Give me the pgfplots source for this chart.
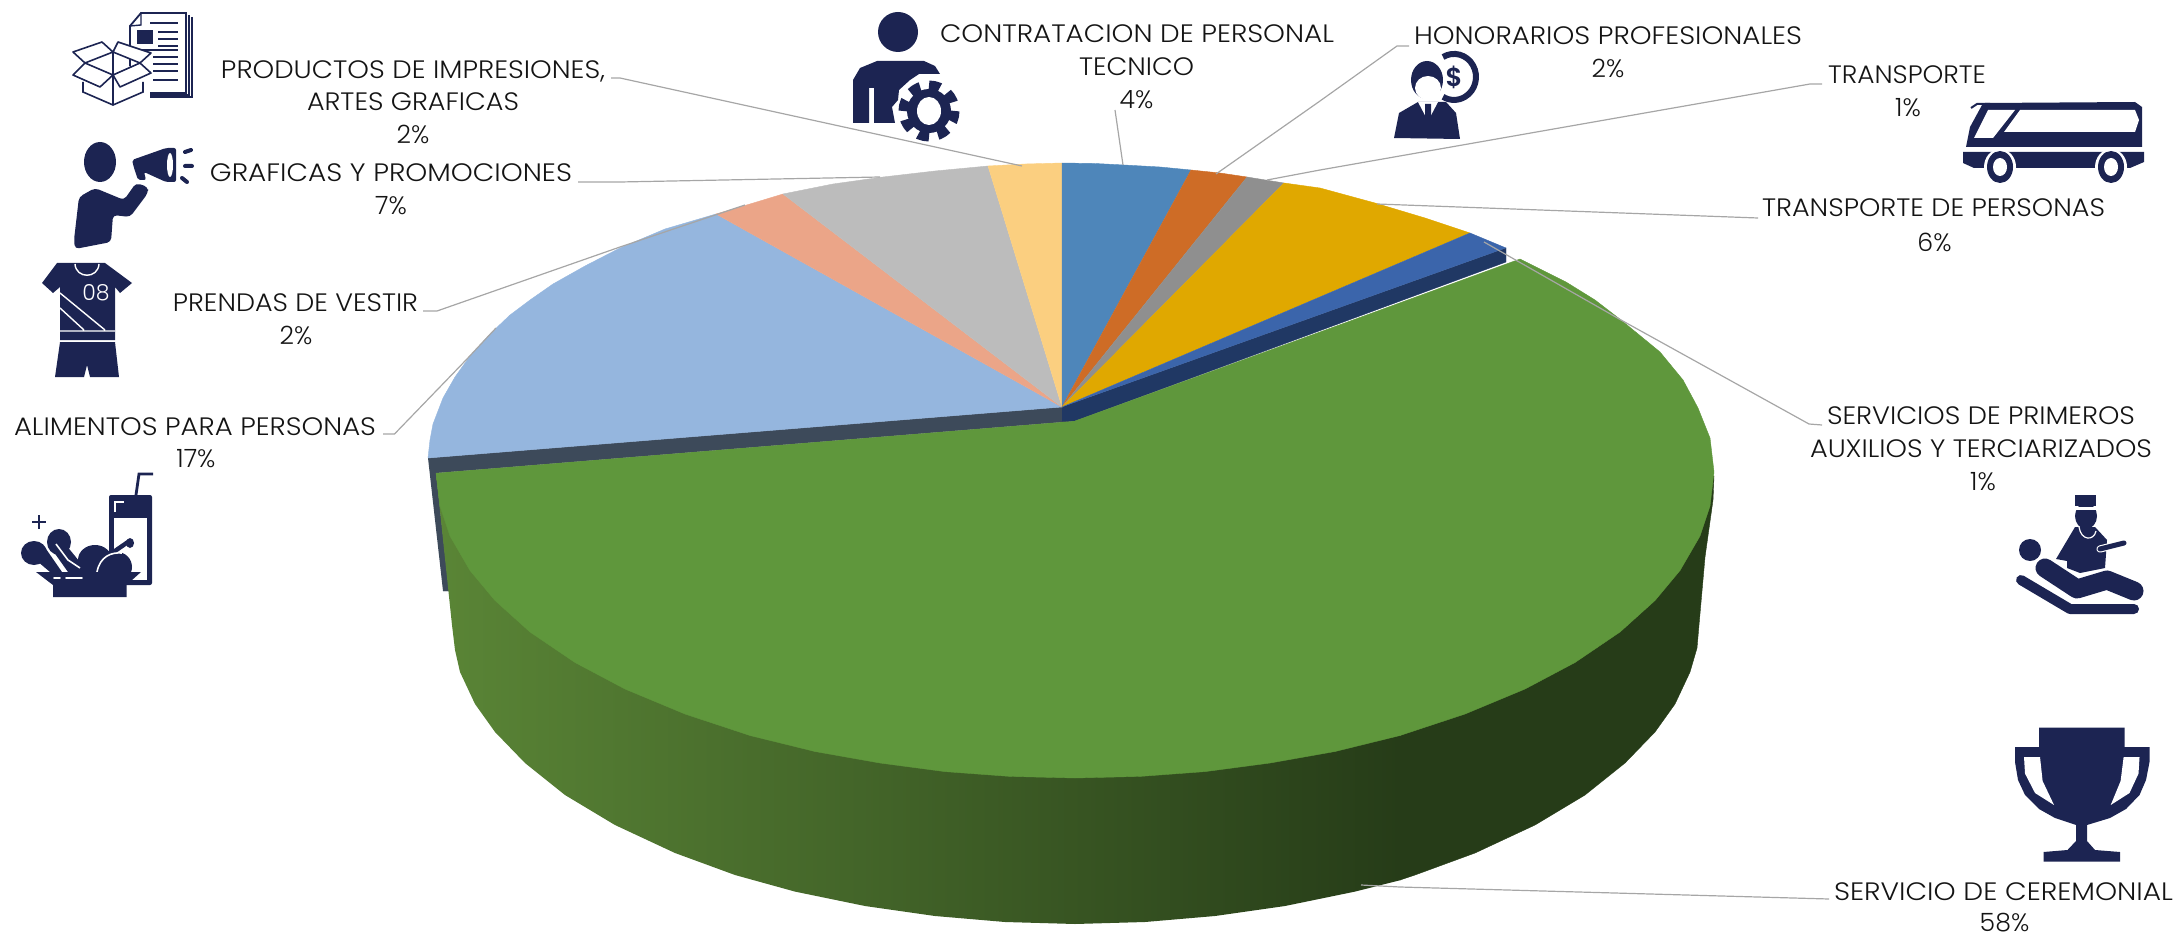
\documentclass[border=0pt]{standalone}
\usepackage{pgfplots}
\usepackage{graphicx}
\usepackage{fontspec}
\setmainfont{Poppins Light}
\pgfplotsset{compat=1.18}
\definecolor{iconnavy}{HTML}{1C2452}
\definecolor{leader}{HTML}{A6A6A6}
\definecolor{cTop}{HTML}{5F973C}
\definecolor{cSideL}{HTML}{5A8536}
\definecolor{cSideR}{HTML}{263C18}
\definecolor{cAli}{HTML}{95B6DE}
\definecolor{cPre}{HTML}{EBA588}
\definecolor{cGra}{HTML}{BCBCBC}
\definecolor{cPro}{HTML}{FBCF80}
\definecolor{cCon}{HTML}{4E86BA}
\definecolor{cHon}{HTML}{CE6C26}
\definecolor{cTra}{HTML}{8F8F8F}
\definecolor{cPer}{HTML}{E0A800}
\definecolor{cSer}{HTML}{3B65AB}
\definecolor{cDk}{HTML}{203864}
\definecolor{cDl}{HTML}{3D4A5A}
\newcommand\lab[4]{\node[anchor=base,inner sep=0pt,text=black!92] at (#1,#2+9) {\resizebox{#3pt}{\height}{#4}};}
\newcommand\plab[3]{\node[anchor=base,inner sep=0pt,text=black!92] at (#1,#2+9) {#3};}
\begin{document}
\fontsize{12.6}{15}\selectfont
\begin{tikzpicture}
\path[use as bounding box] (0,0) rectangle (1089pt,468pt);
\begin{axis}[at={(0,0)},anchor=south west,width=1089pt,height=468pt,scale only axis,
  xmin=0,xmax=2178,ymin=0,ymax=936,y dir=reverse,hide axis,clip=false]
% dark bands behind the exploded slice
\addplot[fill=cDl,draw=cDl,line width=0.2pt] coordinates {(428,458)(1062,407)(1062,421)(1075,421)(436,473)(449,591)(443,591)};
\addplot[fill=cDk,draw=cDk,line width=0.2pt] coordinates {(1062,407)(1506,248)(1506,262)(1075,421)(1062,421)};
% slices, top faces
\addplot[fill=cAli,draw=cAli,line width=0.2pt] coordinates {(1062,407)(428,458)(430,440)(433,424)(443,398)(455,377)(470,356)(490,334)(510,315)(530,300)(553,284)(585,266)(620,248)(665,229)(716,214)};
\addplot[fill=cPre,draw=cPre,line width=0.2pt] coordinates {(1062,407)(716,214)(750,204)(783,194)};
\addplot[fill=cGra,draw=cGra,line width=0.2pt] coordinates {(1062,407)(783,194)(833,184)(883,177)(935,171)(988,166)};
\addplot[fill=cPro,draw=cPro,line width=0.2pt] coordinates {(1062,407)(988,166)(1025,164)(1062,163)};
\addplot[fill=cCon,draw=cCon,line width=0.2pt] coordinates {(1062,407)(1062,163)(1095,163.5)(1124,165)(1160,167)(1191,170)};
\addplot[fill=cHon,draw=cHon,line width=0.2pt] coordinates {(1062,407)(1191,170)(1220,173)(1247,177)};
\addplot[fill=cTra,draw=cTra,line width=0.2pt] coordinates {(1062,407)(1247,177)(1284,183)};
\addplot[fill=cPer,draw=cPer,line width=0.2pt] coordinates {(1062,407)(1284,183)(1320,188)(1375,203)(1425,218)(1470,233)};
\addplot[fill=cSer,draw=cSer,line width=0.2pt] coordinates {(1062,407)(1470,233)(1506,248)};
% exploded slice: side, then top
\addplot[left color=cSideL,right color=cSideR,draw=none] coordinates {(436,473)(452,625)(455,650)(460,672)(475,704)(495,732)(525,763)(565,795)(615,825)(675,853)(735,875)(795,891.6)(865,906)(935,916)(1005,922)(1075,924)(1145,922)(1215,916)(1285,906)(1355,891.6)(1401,880)(1401,736)(1075,500)};
\addplot[fill=cSideR,draw=cSideR,line width=0.2pt] coordinates {(1400,736)(1400,880)(1415,875)(1475,853)(1535,825)(1585,795)(1625,763)(1655,732)(1675,704)(1690,672)(1697,648)(1699,625)(1705,557)(1713,500)(1714,476)(1500,600)};
\addplot[fill=cTop,draw=cTop,line width=0.2pt] coordinates {(1075,421)(1353,320)(1520,259)(1566,282)(1595,300)(1621,320)(1660,352)(1683,380)(1698,408)(1710,438)(1714,472)(1710,506)(1700,536)(1680,570.5)(1655,600.5)(1620,632)(1575,662.5)(1525,689)(1465,714)(1400,735.5)(1335,751.5)(1270,763)(1205,771.6)(1140,776.4)(1075,778)(1010,776.4)(945,771.6)(880,763)(815,751.5)(750,735.5)(685,714)(625,689)(575,662.5)(530,632)(495,600.5)(470,570.5)(450,536)(440,506)(436,473)};
% leader lines
\addplot[draw=leader,line width=0.6pt] coordinates {(611,78)(620,78)(1022,166)};
\addplot[draw=leader,line width=0.6pt] coordinates {(578,182)(620,182)(880,177)};
\addplot[draw=leader,line width=0.6pt] coordinates {(423,311)(437,311)(620,247)(745,205)};
\addplot[draw=leader,line width=0.6pt] coordinates {(383,434)(394.5,434)(466,360)(496,328)};
\addplot[draw=leader,line width=0.6pt] coordinates {(1115,110)(1123,165)};
\addplot[draw=leader,line width=0.6pt] coordinates {(1409,46)(1397,46)(1320,101)(1216,174)};
\addplot[draw=leader,line width=0.6pt] coordinates {(1822,84)(1810,84)(1320,170)(1267,180)};
\addplot[draw=leader,line width=0.6pt] coordinates {(1758,218)(1377,204)};
\addplot[draw=leader,line width=0.6pt] coordinates {(1822,425)(1809,424)(1621,320)(1484,242)};
\addplot[draw=leader,line width=0.6pt] coordinates {(1829,899)(1400,887)(1361,885)};
% labels
\lab{413}{70}{192}{PRODUCTOS DE IMPRESIONES,}
\lab{413}{102}{106}{ARTES GRAFICAS}
\plab{413}{135}{2\%}
\lab{391}{173}{181}{GRAFICAS Y PROMOCIONES}
\plab{391}{206}{7\%}
\lab{295.5}{302}{122.5}{PRENDAS DE VESTIR}
\plab{296}{335}{2\%}
\lab{195}{426}{181}{ALIMENTOS PARA PERSONAS}
\plab{196}{458}{17\%}
\lab{1137}{34}{197}{CONTRATACION DE PERSONAL}
\lab{1136.5}{67}{57.5}{TECNICO}
\plab{1136.5}{100}{4\%}
\lab{1608}{36}{194}{HONORARIOS PROFESIONALES}
\plab{1608}{69}{2\%}
\lab{1907}{75}{79}{TRANSPORTE}
\plab{1908}{108}{1\%}
\lab{1933.5}{208}{171.5}{TRANSPORTE DE PERSONAS}
\plab{1934.5}{242}{6\%}
\lab{1981}{415.5}{154}{SERVICIOS DE PRIMEROS}
\lab{1981}{448}{171}{AUXILIOS Y TERCIARIZADOS}
\plab{1983}{481}{1\%}
\lab{2003.5}{891}{169.5}{SERVICIO DE CEREMONIAL}
\plab{2004.5}{922.5}{58\%}
% icon: documents and box
\draw[iconnavy,line width=0.9pt] (192,17)--(192,97)--(150,97);
\draw[iconnavy,line width=0.9pt] (189,15)--(189,95)--(150,95);
\draw[iconnavy,line width=0.9pt,fill=white] (130,72)--(130,26)--(141,13)--(186,13)--(186,93)--(150,93);
\draw[iconnavy,line width=0.7pt] (130,26)--(141,25)--(141,13);
\fill[iconnavy] (137,30) rectangle (153,44);
\draw[iconnavy,line width=0.7pt] (150,23)--(178,23) (158,32)--(178,32) (158,39)--(178,39) (158,46)--(178,46) (140,50)--(178,50) (153,57)--(178,57) (153,64)--(178,64) (153,71)--(178,71) (153,80)--(178,80);
\fill[white] (83,80)--(83,92)--(113,105)--(143,92)--(143,80)--(113,50)--cycle;
\draw[iconnavy,line width=0.8pt,fill=white,line join=round] (113,52)--(102,42)--(73,52)--(85,63)--cycle;
\draw[iconnavy,line width=0.8pt,fill=white,line join=round] (113,52)--(118,42)--(151,53)--(140,63)--cycle;
\draw[iconnavy,line width=0.8pt,fill=white,line join=round] (85,63)--(73,75)--(100,87)--(113,75)--cycle;
\draw[iconnavy,line width=0.8pt,fill=white,line join=round] (140,63)--(151,73)--(120,87)--(113,75)--cycle;
\draw[iconnavy,line width=0.8pt] (83,82)--(83,92)--(113,105)--(143,92)--(143,82) (113,75)--(113,105) (113,52)--(113,75);
% icon: man with megaphone
\fill[iconnavy] (100,162) ellipse [x radius=16,y radius=20];
\fill[iconnavy,rounded corners=2pt] (79,197)--(95,188)--(124,200)--(136,183)--(148,187)--(148,193)--(130,217)--(113,215)--(111,242)--(75,249)--(74,240)--cycle;
\fill[iconnavy,rounded corners=1pt] (132,160)--(166,148)--(176,148)--(176,182)--(166,182)--(144,172)--(146,180)--(138,180)--(134,168)--cycle;
\fill[white] (170,165) ellipse [x radius=3,y radius=12];
\draw[iconnavy,line width=2pt,line cap=round] (185,152)--(191,150) (185,166)--(192,166) (182,178)--(187,182);
% icon: football kit
\fill[iconnavy] (57,263)--(105,263)--(132,283)--(120,293)--(115,287)--(115,340)--(60,340)--(60,287)--(53,293)--(42,283)--cycle;
\fill[iconnavy] (60,342)--(115,342)--(119,377)--(90,377)--(87,365)--(84,377)--(55,377)--cycle;
\draw[white,line width=0.7pt] (75,264) .. controls (76,279) and (98,279) .. (99,264);
\draw[white,line width=0.7pt] (60,293)--(105,330) (60,308)--(84,330) (60,331)--(115,331);
\node[text=white,inner sep=0pt,font=\fontsize{11}{12}\selectfont] at (96,293) {08};
% icon: food and drink
\fill[iconnavy,rounded corners=1pt] (109,495) rectangle (152,585);
\fill[white] (114,518) rectangle (147,580);
\draw[white,line width=0.8pt] (115,512)--(115,502)--(124,502);
\draw[iconnavy,line width=1.4pt] (136,495)--(139,474)--(153,474);
\draw[iconnavy,line width=1.4pt] (39,515)--(39,529) (32,522)--(46,522);
\fill[iconnavy] (34,553) ellipse [x radius=13,y radius=12];
\fill[iconnavy] (59,542) ellipse [x radius=12,y radius=13];
\fill[iconnavy] (30,555)--(44,546)--(62,572)--(50,572)--cycle;
\fill[iconnavy] (51,548)--(66,545)--(88,572)--(68,572)--cycle;
\fill[iconnavy] (95,560) ellipse [x radius=17,y radius=15];
\draw[iconnavy,line width=2.2pt] (112,553)--(128,542);
\fill[iconnavy] (130,543) ellipse [x radius=4,y radius=5];
\draw[white,line width=0.8pt] (56,544)--(68,560)--(80,568);
\fill[iconnavy] (117,567) ellipse [x radius=15,y radius=15];
\draw[white,line width=0.8pt] (97,572) .. controls (100,556) and (112,552) .. (122,553);
\fill[iconnavy] (36,572)--(141,572)--(126.5,585)--(126.5,597)--(53,597)--(53,585)--cycle;
\draw[white,line width=0.8pt,line cap=round] (54,578)--(60,578) (66,578)--(82,578);
% icon: person with gear
\fill[iconnavy] (898,32) ellipse [x radius=20,y radius=20];
\fill[iconnavy] (853,123)--(853,80)--(860,68)--(877,61)--(924,61)--(935,66)--(940,74)--(919,74)--(910,80)--(899,90)--(898,100)--(892,107)--(895,123)--(874,123)--(874,88)--(869,88)--(869,123)--cycle;
\fill[iconnavy] (929,111) circle [radius=22];
\draw[iconnavy,line width=4.5pt,dash pattern=on 5.6pt off 4.6pt] (929,111) circle [radius=26];
\fill[white] (929,111) ellipse [x radius=12,y radius=14];
% icon: professional and money
\fill[iconnavy] (1394,138)--(1399,113)--(1418,102)--(1446,102)--(1456,113)--(1460,139)--cycle;
\fill[white] (1418,102)--(1438,102)--(1428,121)--cycle;
\fill[iconnavy] (1425,104)--(1431,104)--(1431,118)--(1428,122)--(1425,118)--cycle;
\fill[iconnavy] (1427,80) ellipse [x radius=16,y radius=19];
\fill[white] (1428,88) ellipse [x radius=13,y radius=12];
\draw[iconnavy,line width=3pt] (1443,57) arc [start angle=-120,end angle=120,x radius=22,y radius=23];
\node[text=iconnavy,inner sep=0pt,font=\fontsize{13}{14}\bfseries] at (1454,77) {\$};
% icon: bus
\fill[iconnavy] (1985,103)--(2135,102)--(2142,107)--(2142,147)--(1966,147)--(1970,127)--(1982,105)--cycle;
\fill[iconnavy] (1963,152)--(2144,152)--(2144,162)--(2130,168)--(1974,168)--(1963,163)--cycle;
\fill[white] (1988,110)--(2015,110)--(1993,138)--(1974,138)--cycle;
\fill[white] (2020,110)--(2135,110)--(2139,120)--(2135,132)--(2004,132)--cycle;
\draw[iconnavy,line width=1pt] (1971,108)--(1977,104)--(1990,104);
\fill[white] (2000,167) ellipse [x radius=16,y radius=18];
\fill[white] (2111,167) ellipse [x radius=16,y radius=18];
\fill[iconnavy] (2000,167) ellipse [x radius=13,y radius=16];
\fill[iconnavy] (2111,167) ellipse [x radius=13,y radius=16];
\fill[white] (2000,167) ellipse [x radius=7,y radius=9];
\fill[white] (2111,167) ellipse [x radius=7,y radius=9];
% icon: medic and patient
\fill[iconnavy] (2075,495)--(2096,495)--(2096,506)--(2075,506)--cycle;
\fill[iconnavy] (2086,516) ellipse [x radius=11,y radius=13];
\fill[white] (2074,507) rectangle (2098,510);
\fill[iconnavy] (2075,527)--(2095,527)--(2107,540)--(2105,568)--(2080,573)--(2067,568)--(2067,561)--(2056,559)--cycle;
\draw[white,line width=0.6pt] (2079,527) .. controls (2081,541) and (2094,541) .. (2096,531);
\draw[white,line width=3.6pt,line cap=round] (2100,549)--(2124,543);
\draw[iconnavy,line width=2.5pt,line cap=round] (2100,549)--(2124,543);
\fill[iconnavy] (2030,550) ellipse [x radius=11,y radius=11];
\draw[white,line width=11.5pt,line cap=round,line join=round] (2045,568)--(2077,589)--(2107,580)--(2134,591);
\draw[iconnavy,line width=9.5pt,line cap=round,line join=round] (2045,568)--(2077,589)--(2107,580)--(2134,591);
\draw[iconnavy,line width=5pt,line cap=round,line join=round] (2021,580)--(2070,609)--(2134,609);
% icon: trophy
\fill[iconnavy] (2039,727.5)--(2124.5,727.5)--(2124.5,747)--(2149.5,747)--(2149.5,762)--(2146,780)--(2139.5,795)--(2126,809)--(2110,818)--(2087,825)--(2087,841)--(2095,850)--(2120,852)--(2120,861.5)--(2043.6,861.5)--(2043.6,852)--(2067.5,850)--(2076,841)--(2076,825)--(2055,818)--(2039,809)--(2025,795)--(2018,780)--(2015,762)--(2015,747)--(2039,747)--cycle;
\fill[white] (2024,757)--(2040,757)--(2042.6,781)--(2054,805)--(2035,793)--(2025,773.6)--cycle;
\fill[white] (2139.5,757)--(2123.6,757)--(2120.6,781)--(2110.7,805)--(2129.5,793)--(2138.5,773.6)--cycle;
\end{axis}
\end{tikzpicture}
\end{document}
